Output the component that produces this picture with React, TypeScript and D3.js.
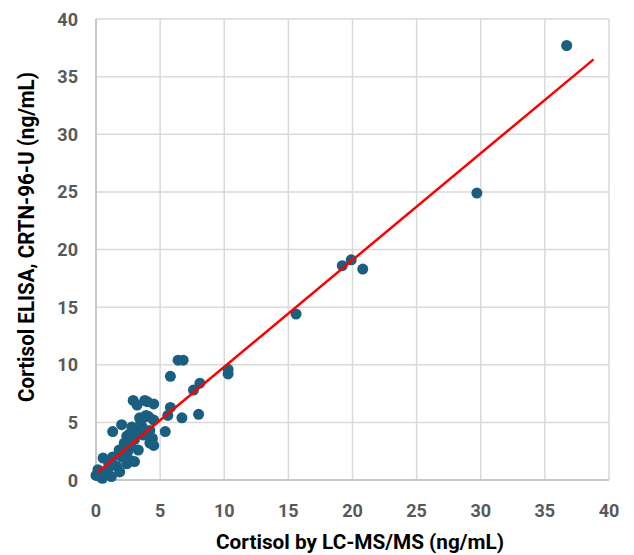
import { useEffect, useRef } from "react";
import * as d3 from "d3";

// Cortisol by LC-MS/MS (ng/mL)
const lcmsValues = [
  36.7, 29.7, 19.2, 19.9, 20.8, 15.6, 10.3, 10.3, 6.4, 6.8, 5.8, 8.1, 7.6, 8.0,
  6.7, 5.8, 5.6, 5.4, 4.5, 3.8, 2.9, 3.2, 4.1, 4.5, 3.5, 2.8, 2.0, 1.3, 2.4, 2.2,
  3.0, 3.7, 4.2, 4.2, 4.4, 4.5, 3.3, 2.5, 2.0, 1.3, 0.55, 3.0, 2.4, 1.6, 0.9,
  0.15, 0.0, 0.5, 1.2, 1.85, 2.7, 3.3, 2.6, 3.6, 2.7, 1.8, 3.9, 0.3, 0.7, 3.4,
  2.3, 4.0, 1.0,
];

// Cortisol ELISA, CRTN-96-U (ng/mL)
const elisaValues = [
  37.7, 24.9, 18.6, 19.1, 18.3, 14.4, 9.6, 9.2, 10.4, 10.4, 9.0, 8.4, 7.8, 5.7,
  5.4, 6.3, 5.6, 4.2, 6.6, 6.9, 6.9, 6.5, 5.5, 5.2, 5.1, 4.6, 4.8, 4.2, 3.8, 3.2,
  3.5, 3.9, 3.2, 4.3, 3.6, 3.0, 2.6, 2.5, 2.0, 2.0, 1.9, 1.6, 1.4, 1.2, 0.9,
  0.9, 0.4, 0.15, 0.3, 0.7, 1.7, 4.2, 4.0, 4.6, 3.0, 2.6, 5.6, 0.3, 0.6, 5.4,
  2.9, 6.8, 1.4,
];

// linear trendline end points (x, y)
const trendX = [0.15, 38.8];
const trendY = [0.7, 36.5];

const tickValues = [0, 5, 10, 15, 20, 25, 30, 35, 40];

const App = () => {
  const svgRef = useRef<SVGSVGElement>(null);

  useEffect(() => {
    const width = 634;
    const height = 555;
    const margin = { top: 19, right: 25, bottom: 75, left: 96 };
    const innerW = width - margin.left - margin.right;
    const innerH = height - margin.top - margin.bottom;

    const root = d3.select(svgRef.current);
    root.selectAll("*").remove();
    root.attr("width", width).attr("height", height);

    const svg = root
      .append("g")
      .attr("transform", `translate(${margin.left},${margin.top})`);

    const x = d3.scaleLinear().domain([0, 40]).range([0, innerW]);
    const y = d3.scaleLinear().domain([0, 40]).range([innerH, 0]);

    const gridColor = "#d9d9d9";
    const tickColor = "#595959";
    const font = "Roboto, 'Liberation Sans', Arial, sans-serif";

    // Gridlines
    svg
      .selectAll(".vgrid")
      .data(tickValues)
      .enter()
      .append("line")
      .attr("x1", (d) => x(d))
      .attr("x2", (d) => x(d))
      .attr("y1", 0)
      .attr("y2", innerH)
      .attr("stroke", gridColor)
      .attr("stroke-width", 1.5);

    svg
      .selectAll(".hgrid")
      .data(tickValues)
      .enter()
      .append("line")
      .attr("x1", 0)
      .attr("x2", innerW)
      .attr("y1", (d) => y(d))
      .attr("y2", (d) => y(d))
      .attr("stroke", gridColor)
      .attr("stroke-width", 1.5);

    // Axis lines
    svg
      .append("line")
      .attr("x1", 0)
      .attr("x2", 0)
      .attr("y1", 0)
      .attr("y2", innerH)
      .attr("stroke", "#bfbfbf")
      .attr("stroke-width", 1.5);
    svg
      .append("line")
      .attr("x1", 0)
      .attr("x2", innerW)
      .attr("y1", innerH)
      .attr("y2", innerH)
      .attr("stroke", "#bfbfbf")
      .attr("stroke-width", 1.5);

    // Tick labels
    svg
      .selectAll(".xtick")
      .data(tickValues)
      .enter()
      .append("text")
      .attr("x", (d) => x(d))
      .attr("y", innerH + 37)
      .attr("text-anchor", "middle")
      .attr("fill", tickColor)
      .attr("font-family", font)
      .attr("font-weight", "bold")
      .attr("font-size", 18)
      .text((d) => d);

    svg
      .selectAll(".ytick")
      .data(tickValues)
      .enter()
      .append("text")
      .attr("x", -18)
      .attr("y", (d) => y(d) + 6.5)
      .attr("text-anchor", "end")
      .attr("fill", tickColor)
      .attr("font-family", font)
      .attr("font-weight", "bold")
      .attr("font-size", 18)
      .text((d) => d);

    // Axis titles
    svg
      .append("text")
      .attr("x", 360 - margin.left)
      .attr("y", 549 - margin.top)
      .attr("text-anchor", "middle")
      .attr("fill", "#000")
      .attr("font-family", font)
      .attr("font-weight", "bold")
      .attr("font-size", 21)
      .attr("textLength", 288)
      .attr("lengthAdjust", "spacingAndGlyphs")
      .text("Cortisol by LC-MS/MS (ng/mL)");

    svg
      .append("text")
      .attr("transform", "rotate(-90)")
      .attr("x", -(237 - margin.top))
      .attr("y", 34 - margin.left)
      .attr("text-anchor", "middle")
      .attr("fill", "#000")
      .attr("font-family", font)
      .attr("font-weight", "bold")
      .attr("font-size", 22)
      .attr("textLength", 330)
      .attr("lengthAdjust", "spacingAndGlyphs")
      .text("Cortisol ELISA, CRTN-96-U (ng/mL)");

    // Dots
    const points = lcmsValues.map((v, i) => ({ x: v, y: elisaValues[i] }));
    svg
      .selectAll(".dot")
      .data(points)
      .enter()
      .append("circle")
      .attr("cx", (d) => x(d.x))
      .attr("cy", (d) => y(d.y))
      .attr("r", 5.5)
      .attr("fill", "#1a5e80");

    // Trendline
    const line = d3
      .line<number>()
      .x((d) => x(d))
      .y((_, i) => y(trendY[i]));

    svg
      .append("path")
      .datum(trendX)
      .attr("fill", "none")
      .attr("stroke", "#ff0000")
      .attr("stroke-width", 2.5)
      .attr("d", line);
  }, []);

  return (
    <div style={{ position: "absolute", left: 0, top: 0 }}>
      <svg ref={svgRef}></svg>
    </div>
  );
};

export default App;
